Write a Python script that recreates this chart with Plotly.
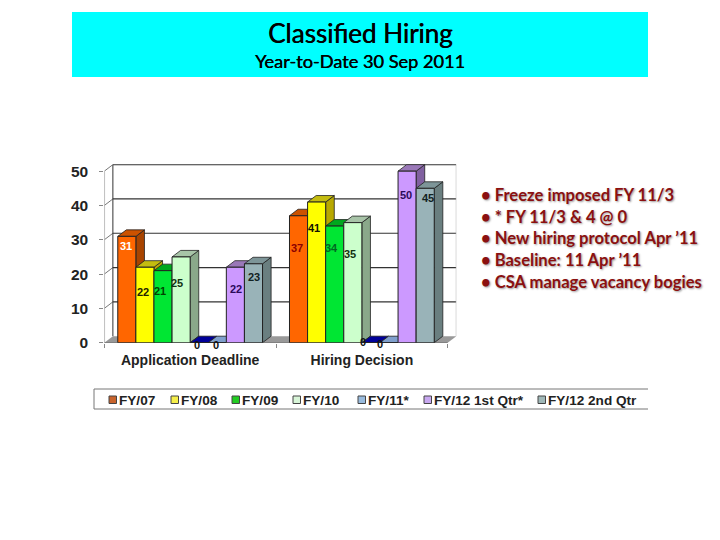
#!/usr/bin/env python3
"""Classified Hiring - year-to-date bars with a drawn 3D look"""

import plotly.graph_objects as go

W, H = 720, 540

categories = ['Application Deadline', 'Hiring Decision']
series_names = ['FY/07', 'FY/08', 'FY/09', 'FY/10', 'FY/11', 'FY/11*', 'FY/12 1st Qtr*', 'FY/12 2nd Qtr']
fy07 = [31, 37]
fy08 = [22, 41]
fy09 = [21, 34]
fy10 = [25, 35]
fy11_q3 = [0, 0]
fy11_q4 = [0, 0]
fy12_q1 = [22, 50]
fy12_q2 = [23, 45]
series_values = [fy07, fy08, fy09, fy10, fy11_q3, fy11_q4, fy12_q1, fy12_q2]
y_ticks = [0, 10, 20, 30, 40, 50]

front_colors = ['#ff6600', '#ffff00', '#00e633', '#ccffcc', '#000099', '#99bbdd', '#cc99ff', '#99b3b8']
top_colors = ['#cc5200', '#c4bc10', '#00a81e', '#a8c4a8', '#000099', '#7f9fcc', '#9a78b8', '#7d9598']
side_colors = ['#a84400', '#b8a800', '#008a18', '#8aa88a', '#000066', '#6688aa', '#8060a0', '#6a7f80']

legend_names = ['FY/07', 'FY/08', 'FY/09', 'FY/10', 'FY/11*', 'FY/12 1st Qtr*', 'FY/12 2nd Qtr']
legend_colors = ['#c8632c', '#f5ee4a', '#22cc22', '#d8f5d8', '#99bbdd', '#c8a8f0', '#a0b8b8']
legend_px = [109, 171, 232, 293, 358, 424, 538]

notes = ['• Freeze imposed FY 11/3', '• * FY 11/3 & 4 @ 0', '• New hiring protocol Apr ’11',
         '• Baseline: 11 Apr ’11', '• CSA manage vacancy bogies']
notes_py = [194.5, 216.5, 238, 259.5, 281.5]

# label placement, pixels from the bar centre and below the bar top, one row per category
label_dx = [[-1, -2, -3, -4, -2, -1, 1, 1], [-2, -3, -3, -3, -8, -9, -1, 3]]
label_dy = [[10, 25, 20, 26, 2, 2, 22, 13], [32, 26, 22, 31, -1, 1, 24, 10]]
label_colors = [['#ffffff', '#222200', '#004400', '#113311', '#111111', '#111111', '#2a0a5a', '#112222'],
                ['#8b0000', '#111100', '#006622', '#113311', '#111111', '#111111', '#2a0a5a', '#112222']]

# plot geometry
X0, X1 = 104.3, 456.3
Y0, Y1 = 342.7, 164.3
XMIN, XMAX = -0.5, 1.55
YMIN, YMAX = 0, 52
DX, DY = 0.05, 1.9
BARGAP = 0.157
SLOT = (1 - BARGAP) / len(series_values)


def px(x):
    return x / W


def py(y):
    return 1 - y / H


def poly(points):
    return 'M' + ' L'.join(f'{a:.4f},{b:.3f}' for a, b in points) + ' Z'


fig = go.Figure()

for name, values, color in zip(series_names, series_values, front_colors):
    fig.add_trace(go.Bar(x=categories, y=values, name=name, showlegend=False,
                         marker=dict(color=color, line=dict(color='#222222', width=1))))

shapes = []

# walls and floor
shapes.append(dict(type='path', layer='below', xref='x', yref='y', fillcolor='#999999', line=dict(width=0),
                   path=poly([(-0.5, 0), (1.5, 0), (1.5 + DX, DY), (-0.5 + DX, DY)])))
for v in y_ticks[1:]:
    shapes.append(dict(type='line', layer='below', xref='x', yref='y', x0=-0.5 + DX, x1=1.5 + DX,
                       y0=v + DY, y1=v + DY, line=dict(color='#333333', width=1.2)))
    shapes.append(dict(type='line', layer='below', xref='x', yref='y', x0=-0.5, x1=-0.5 + DX,
                       y0=v, y1=v + DY, line=dict(color='#777777', width=1)))
shapes.append(dict(type='line', layer='below', xref='x', yref='y', x0=-0.5 + DX, x1=-0.5 + DX,
                   y0=DY, y1=50 + DY, line=dict(color='#333333', width=1)))
shapes.append(dict(type='line', layer='below', xref='x', yref='y', x0=1.5 + DX, x1=1.5 + DX,
                   y0=DY, y1=50 + DY, line=dict(color='#aaaaaa', width=1)))
shapes.append(dict(type='line', layer='below', xref='x', yref='y', x0=-0.5, x1=-0.5,
                   y0=0, y1=50, line=dict(color='#aaaaaa', width=1.5)))
shapes.append(dict(type='line', layer='below', xref='x', yref='y', x0=-0.5, x1=1.5,
                   y0=0, y1=0, line=dict(color='#555555', width=1)))

# depth faces of each bar, left to right so later bars overlap earlier ones
for c in range(len(categories)):
    for s, values in enumerate(series_values):
        v = values[c]
        left = c - (1 - BARGAP) / 2 + s * SLOT
        right = left + SLOT
        if v > 0:
            shapes.append(dict(type='path', layer='below', xref='x', yref='y', fillcolor=side_colors[s],
                               line=dict(color='#222222', width=0.8),
                               path=poly([(right, 0), (right + DX, DY), (right + DX, v + DY), (right, v)])))
        shapes.append(dict(type='path', layer='below', xref='x', yref='y', fillcolor=top_colors[s],
                           line=dict(color='#222222', width=0.8),
                           path=poly([(left, v), (right, v), (right + DX, v + DY), (left + DX, v + DY)])))

# banner
shapes.append(dict(type='rect', layer='below', xref='paper', yref='paper', x0=px(72), x1=px(648),
                   y0=py(77), y1=py(12), fillcolor='#00ffff', line=dict(width=0)))

# legend box
for edge in (389, 409):
    shapes.append(dict(type='line', xref='paper', yref='paper', x0=px(94), x1=px(648),
                       y0=py(edge), y1=py(edge), line=dict(color='#777777', width=1)))
shapes.append(dict(type='line', xref='paper', yref='paper', x0=px(94), x1=px(94),
                   y0=py(409), y1=py(389), line=dict(color='#777777', width=1)))

annotations = []
for name, color, left in zip(legend_names, legend_colors, legend_px):
    shapes.append(dict(type='rect', xref='paper', yref='paper', x0=px(left), x1=px(left + 7.5),
                       y0=py(403.5), y1=py(396), fillcolor=color, line=dict(color='#444444', width=1)))
    annotations.append(dict(xref='paper', yref='paper', x=px(left + 9), y=py(400), text=name, showarrow=False,
                            xanchor='left', yanchor='middle', borderpad=0,
                            font=dict(family='Liberation Sans', size=13.6, color='#222222', weight='bold')))

annotations.append(dict(xref='paper', yref='paper', x=px(360), y=py(33), text='Classified Hiring',
                        showarrow=False, xanchor='center', yanchor='middle',
                        font=dict(family='Lato', size=26, color='#000000', shadow='0.5px 0 0 #000000')))
annotations.append(dict(xref='paper', yref='paper', x=px(360), y=py(61), text='Year-to-Date 30 Sep 2011',
                        showarrow=False, xanchor='center', yanchor='middle',
                        font=dict(family='Lato', size=18.2, color='#000000', shadow='0.4px 0 0 #000000')))

for line, y in zip(notes, notes_py):
    annotations.append(dict(xref='paper', yref='paper', x=px(480), y=py(y), text=line, showarrow=False,
                            xanchor='left', yanchor='middle', borderpad=0,
                            font=dict(family='Lato', size=16.6, color='#8b1010', weight='bold',
                                      shadow='1px 1px 2px #999999')))

# value labels
for c in range(len(categories)):
    for s, values in enumerate(series_values):
        center = c - (1 - BARGAP) / 2 + (s + 0.5) * SLOT
        annotations.append(dict(x=center, y=values[c], xref='x', yref='y', text=str(values[c]), showarrow=False,
                                xanchor='center', yanchor='middle', borderpad=0,
                                xshift=label_dx[c][s], yshift=-label_dy[c][s],
                                font=dict(family='Liberation Sans', size=11, color=label_colors[c][s],
                                          weight='bold')))

fig.update_layout(
    width=W, height=H,
    margin=dict(l=0, r=0, t=0, b=0),
    paper_bgcolor='#ffffff',
    plot_bgcolor='rgba(0,0,0,0)',
    barmode='group',
    bargap=BARGAP,
    bargroupgap=0,
    showlegend=False,
    shapes=shapes,
    annotations=annotations,
    xaxis=dict(domain=[X0 / W, X1 / W], type='category', range=[XMIN, XMAX], tickson='boundaries',
               automargin=False, showline=False, showgrid=False, zeroline=False,
               ticks='outside', ticklen=4, tickcolor='#888888', ticklabelstandoff=7,
               tickfont=dict(family='Liberation Sans', size=14, color='#222222', weight='bold')),
    yaxis=dict(domain=[1 - Y0 / H, 1 - Y1 / H], range=[YMIN, YMAX], tickvals=y_ticks,
               automargin=False, showline=False, showgrid=False, zeroline=False,
               ticks='outside', ticklen=4, tickcolor='#888888', ticklabelstandoff=8,
               tickfont=dict(family='Liberation Sans', size=15.5, color='#222222', weight='bold')),
)

fig.write_html("out.html", config=dict(displayModeBar=False), post_script="document.body.style.margin='0';")
